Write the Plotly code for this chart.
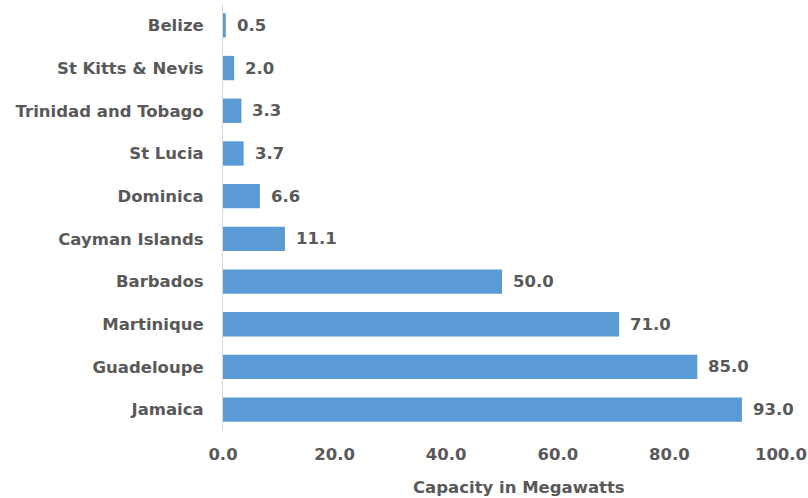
import plotly.graph_objects as go

# Installed solar PV capacity by country (MW)
countries = ["Jamaica", "Guadeloupe", "Martinique", "Barbados", "Cayman Islands",
             "Dominica", "St Lucia", "Trinidad and Tobago", "St Kitts & Nevis", "Belize"]
capacity_mw = [93.0, 85.0, 71.0, 50.0, 11.1, 6.6, 3.7, 3.3, 2.0, 0.5]
x_ticks = [0, 20, 40, 60, 80, 100]
x_title = "Capacity in Megawatts"

FONT = "DejaVu Sans"
GREY = "#595959"
BAR = "#5b9bd5"
SIZE = 16.5
bold = dict(family=FONT, size=SIZE, color=GREY, weight="bold")

fig = go.Figure(
    go.Bar(
        x=capacity_mw,
        y=countries,
        orientation="h",
        marker=dict(color=BAR, line=dict(width=0)),
        width=0.57,
        hoverinfo="skip",
    )
)

# value labels placed just past the end of each bar
for c, v in zip(countries, capacity_mw):
    fig.add_annotation(
        x=v, y=c, text=f"{v:.1f}", showarrow=False,
        xanchor="left", xshift=9, font=bold,
    )

# x-axis title, sitting below the tick labels
fig.add_annotation(
    xref="paper", yref="paper", x=0.53, y=0, yshift=-56,
    xanchor="center", yanchor="middle", showarrow=False,
    text=x_title, font=bold,
)

fig.update_layout(
    width=808,
    height=498,
    margin=dict(l=223, r=27, t=4, b=67),
    paper_bgcolor="white",
    plot_bgcolor="white",
    showlegend=False,
    font=bold,
    xaxis=dict(
        range=[0, 100],
        tickvals=x_ticks,
        tickformat=".1f",
        showgrid=False,
        zeroline=False,
        showline=False,
        ticks="",
        ticklabelstandoff=11,
        tickfont=bold,
        automargin=False,
    ),
    yaxis=dict(
        categoryorder="array",
        categoryarray=countries,
        range=[-0.5, 9.5],
        showgrid=False,
        zeroline=False,
        showline=True,
        linecolor="#d9d9d9",
        linewidth=1,
        ticks="",
        ticklabelstandoff=15,
        tickfont=bold,
        automargin=False,
    ),
)

fig.write_html("out.html")
